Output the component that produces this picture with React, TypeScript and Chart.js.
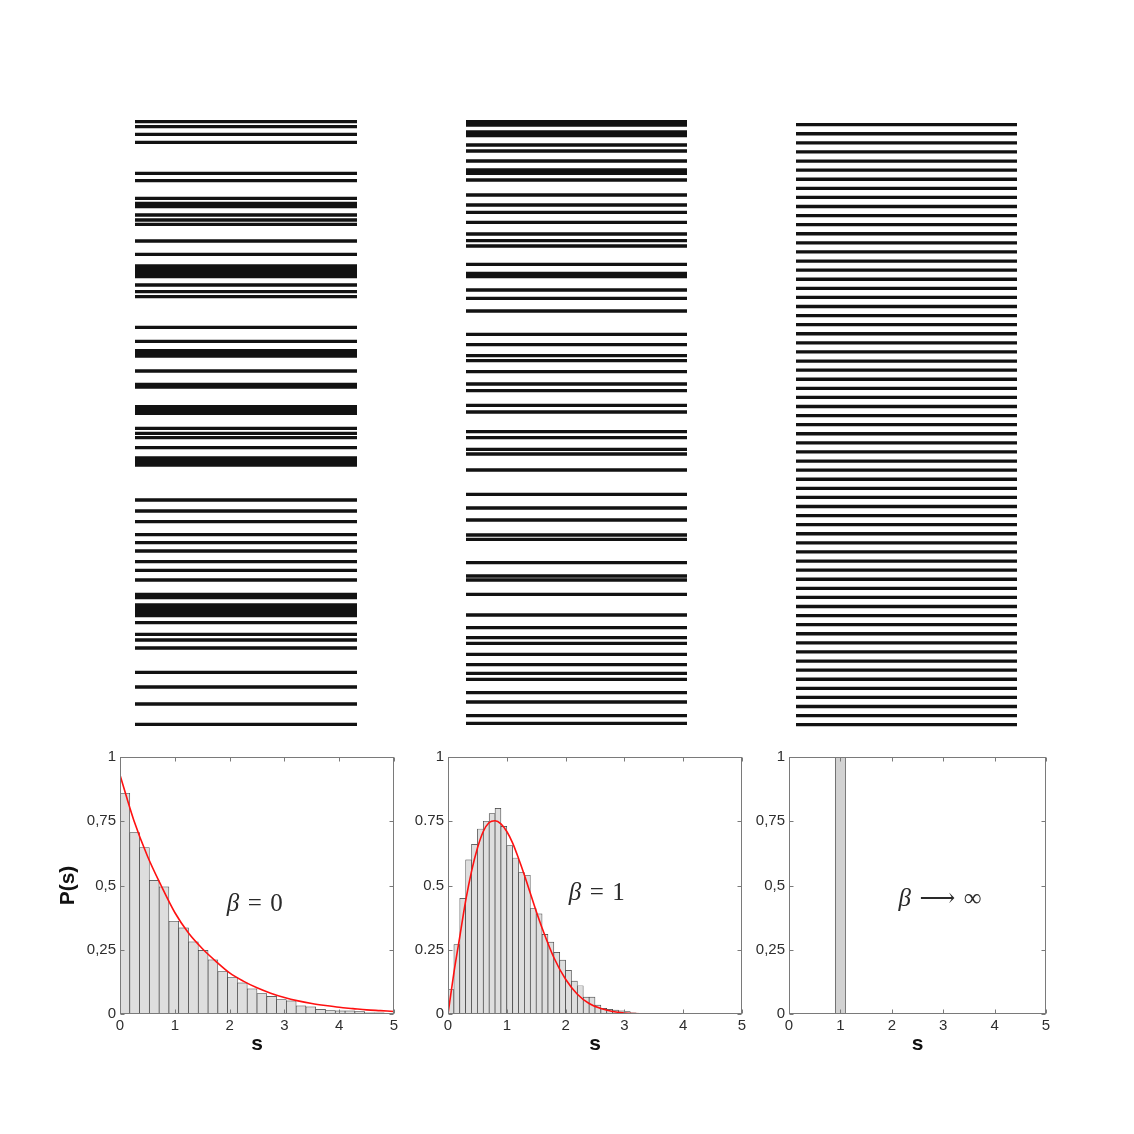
import React, { useEffect, useRef } from 'react';
import { Chart, registerables } from 'chart.js';

Chart.register(...registerables);
Chart.defaults.font.family = '"Liberation Sans", Arial, Helvetica, sans-serif';

// ---------- Energy levels (arbitrary units, 0..100) ----------
const LEVELS_BETA0 = [
  98.13, 97.33, 96.11, 94.83, 89.87, 88.69, 85.87, 85.04, 84.56, 83.2, 82.4, 81.71,
  79.04, 76.91, 75.04, 74.48, 73.92, 73.36, 72.0, 70.93, 70.13, 65.23, 62.99, 61.49,
  61.07, 60.64, 58.24, 56.08, 55.68, 52.53, 52.0, 51.47, 49.07, 48.27, 47.57, 45.97,
  44.32, 43.76, 43.2, 37.6, 35.84, 34.13, 32.05, 30.77, 29.44, 27.73, 26.35, 24.8,
  22.48, 22.0, 20.8, 20.24, 19.68, 19.12, 17.97, 16.11, 15.2, 13.92, 10.03, 7.68,
  4.96, 1.71,
];

const LEVELS_BETA1 = [
  98.13, 97.6, 96.48, 95.92, 94.4, 93.44, 91.84, 90.4, 89.87, 88.8, 86.4, 84.8,
  83.63, 82.03, 80.16, 79.09, 78.24, 75.31, 73.87, 73.33, 71.2, 69.87, 67.84, 64.11,
  62.45, 60.69, 59.89, 58.13, 56.16, 55.09, 52.75, 51.68, 48.53, 47.57, 45.71, 44.96,
  42.4, 38.51, 36.32, 34.4, 32.0, 31.31, 27.57, 25.44, 24.8, 22.51, 19.2, 17.17,
  15.57, 14.67, 12.91, 11.25, 9.87, 8.91, 6.77, 5.28, 3.09, 1.87,
];

const LEVELS_BETAINF = [
  1.65, 3.1, 4.56, 6.01, 7.47, 8.92, 10.38, 11.83, 13.29, 14.74, 16.2, 17.65,
  19.1, 20.56, 22.01, 23.47, 24.92, 26.38, 27.83, 29.29, 30.74, 32.2, 33.65, 35.1,
  36.56, 38.01, 39.47, 40.92, 42.38, 43.83, 45.29, 46.74, 48.2, 49.65, 51.1, 52.56,
  54.01, 55.47, 56.92, 58.38, 59.83, 61.29, 62.74, 64.2, 65.65, 67.1, 68.56, 70.01,
  71.47, 72.92, 74.38, 75.83, 77.29, 78.74, 80.2, 81.65, 83.1, 84.56, 86.01, 87.47,
  88.92, 90.38, 91.83, 93.29, 94.74, 96.2, 97.65,
];

// ---------- Histograms ----------
const BIN_W_BETA0 = 5 / 28;
const HIST_BETA0 = [
  0.859, 0.706, 0.648, 0.52, 0.495, 0.361, 0.335, 0.281, 0.248, 0.211, 0.165, 0.143,
  0.121, 0.098, 0.079, 0.069, 0.056, 0.051, 0.032, 0.028, 0.018, 0.013, 0.012, 0.012,
  0.009, 0.005, 0.005, 0.003,
];

const BIN_W_BETA1 = 0.1;
const HIST_BETA1 = [
  0.095, 0.27, 0.45, 0.6, 0.66, 0.72, 0.75, 0.78, 0.8, 0.73, 0.655, 0.607,
  0.55, 0.54, 0.41, 0.39, 0.31, 0.28, 0.24, 0.21, 0.17, 0.128, 0.11, 0.066,
  0.066, 0.035, 0.022, 0.018, 0.015, 0.012, 0.009, 0.005, 0.003,
];

const HIST_BETAINF_CENTERS = [0.8, 1.0, 1.2];
const HIST_BETAINF = [0, 1, 0];

// ---------- Theoretical curves ----------
const CURVE_BETA0_S = [0, 0.25, 0.5, 0.75, 1, 1.25, 1.5, 1.75, 2, 2.25, 2.5, 2.75, 3, 3.25, 3.5, 3.75, 4, 4.25, 4.5, 4.75, 5];
const CURVE_BETA0_P = [0.93, 0.755, 0.615, 0.5, 0.395, 0.315, 0.255, 0.205, 0.16, 0.128, 0.102, 0.081, 0.064, 0.051, 0.041, 0.033, 0.026, 0.021, 0.016, 0.013, 0.01];

const CURVE_BETA1_S = [0, 0.1, 0.2, 0.3, 0.4, 0.5, 0.6, 0.7, 0.8, 0.9, 1.0, 1.1, 1.2, 1.3, 1.4, 1.5, 1.6, 1.8, 2.0, 2.2, 2.4, 2.6, 2.8, 3.0, 3.3, 3.6, 4.0];
const CURVE_BETA1_P = [0, 0.16, 0.3, 0.44, 0.555, 0.645, 0.71, 0.745, 0.752, 0.74, 0.71, 0.665, 0.605, 0.54, 0.47, 0.4, 0.335, 0.22, 0.135, 0.077, 0.041, 0.021, 0.0095, 0.004, 0.001, 0.0002, 0];

// ---------- Tick labels / texts ----------
const X_TICKS = ['0', '1', '2', '3', '4', '5'];
const Y_TICKS_COMMA = ['0', '0,25', '0,5', '0,75', '1'];
const Y_TICKS_DOT = ['0', '0.25', '0.5', '0.75', '1'];
const LABEL_BETA0 = ['β', '=', '0'];
const LABEL_BETA1 = ['β', '=', '1'];
const LABEL_BETAINF = ['β', '⟶', '∞'];

function Barcode(props: { levels: number[]; left: number; top: number; width: number; height: number }) {
  const ref = useRef<HTMLCanvasElement>(null);
  useEffect(() => {
    const data: any[] = [];
    props.levels.forEach((e) => {
      data.push({ x: 0, y: e }, { x: 1, y: e }, { x: 0.5, y: null });
    });
    const chart = new Chart(ref.current as HTMLCanvasElement, {
      type: 'line',
      data: {
        datasets: [
          {
            data,
            borderColor: '#121212',
            borderWidth: 3.3,
            pointRadius: 0,
            spanGaps: false,
            borderCapStyle: 'butt',
          } as any,
        ],
      },
      options: {
        animation: false,
        responsive: false,
        events: [],
        layout: { padding: 0 },
        plugins: { legend: { display: false }, tooltip: { enabled: false } },
        scales: {
          x: { type: 'linear', min: 0, max: 1, display: false },
          y: { type: 'linear', min: 0, max: 100, display: false },
        },
      },
    });
    return () => chart.destroy();
  }, []);
  return (
    <canvas
      ref={ref}
      width={props.width}
      height={props.height}
      style={{ position: 'absolute', left: props.left, top: props.top, width: props.width, height: props.height }}
    />
  );
}

const panelDecor = {
  id: 'panelDecor',
  afterDraw(chart: any, _args: any, opts: any) {
    const { ctx, chartArea: ca } = chart;
    const xs = chart.scales.x;
    const ys = chart.scales.y;
    ctx.save();
    ctx.strokeStyle = '#7a7a7a';
    ctx.lineWidth = 1;
    const L = Math.round(ca.left) + 0.5;
    const R = Math.round(ca.right) - 0.5;
    const T = Math.round(ca.top) + 0.5;
    const B = Math.round(ca.bottom) - 0.5;
    ctx.strokeRect(L, T, R - L, B - T);
    ctx.beginPath();
    xs.ticks.forEach((t: any) => {
      const px = Math.round(xs.getPixelForValue(t.value)) + 0.5;
      ctx.moveTo(px, B);
      ctx.lineTo(px, B - 4);
      ctx.moveTo(px, T);
      ctx.lineTo(px, T + 4);
    });
    ys.ticks.forEach((t: any) => {
      const py = Math.round(ys.getPixelForValue(t.value)) + 0.5;
      ctx.moveTo(L, py);
      ctx.lineTo(L + 4, py);
      ctx.moveTo(R, py);
      ctx.lineTo(R - 4, py);
    });
    ctx.stroke();

    // math label
    const pieces: string[] = opts.label || [];
    if (pieces.length) {
      const size = opts.size || 23;
      const fam = '"Liberation Serif", "DejaVu Serif", serif';
      const fonts = pieces.map((_p, i) => (i === 0 ? 'italic ' : '') + size + 'px ' + fam);
      const widths = pieces.map((p, i) => {
        ctx.font = fonts[i];
        return ctx.measureText(p).width;
      });
      const gap = size * 0.34;
      const total = widths.reduce((a, b) => a + b, 0) + gap * (pieces.length - 1);
      const cx = xs.getPixelForValue(opts.at[0]);
      const cy = ys.getPixelForValue(opts.at[1]);
      let x = cx - total / 2;
      ctx.fillStyle = '#2a2a2a';
      ctx.textBaseline = 'middle';
      ctx.textAlign = 'left';
      pieces.forEach((p, i) => {
        ctx.font = fonts[i];
        ctx.fillText(p, x, cy);
        x += widths[i] + gap;
      });
    }
    ctx.restore();
  },
};

function Histogram(props: {
  left: number;
  top: number;
  width: number;
  height: number;
  yAxisWidth: number;
  padTop: number;
  padRight: number;
  xAxisHeight: number;
  centers: number[];
  values: number[];
  curveS?: number[];
  curveP?: number[];
  yTickLabels: string[];
  yTitle?: string;
  label: string[];
  labelAt: [number, number];
  barFill: string;
}) {
  const ref = useRef<HTMLCanvasElement>(null);
  useEffect(() => {
    const datasets: any[] = [];
    if (props.curveS && props.curveP) {
      datasets.push({
        type: 'line',
        order: 0,
        data: props.curveS.map((s, i) => ({ x: s, y: (props.curveP as number[])[i] })),
        borderColor: '#ff1010',
        borderWidth: 1.6,
        pointRadius: 0,
        cubicInterpolationMode: 'monotone',
      });
    }
    datasets.push({
      type: 'bar',
      order: 1,
      data: props.centers.map((c, i) => ({ x: c, y: props.values[i] })),
      backgroundColor: props.barFill,
      borderColor: '#3c3c3c',
      borderWidth: (ctx: any) => (ctx.raw && ctx.raw.y > 0 ? 0.7 : 0),
      barPercentage: 1,
      categoryPercentage: 1,
    });
    const chart = new Chart(ref.current as HTMLCanvasElement, {
      type: 'bar',
      data: { datasets },
      options: {
        animation: false,
        responsive: false,
        events: [],
        layout: { padding: { left: 0, top: props.padTop, right: props.padRight, bottom: 0 } },
        plugins: {
          legend: { display: false },
          tooltip: { enabled: false },
          panelDecor: { label: props.label, at: props.labelAt, size: 25 },
        } as any,
        scales: {
          x: {
            type: 'linear',
            min: 0,
            max: 5,
            offset: false,
            grid: { display: false, drawTicks: false },
            border: { display: false },
            ticks: {
              stepSize: 1,
              autoSkip: false,
              maxRotation: 0,
              padding: 3,
              color: '#2e2e2e',
              font: { size: 15 },
              callback: (_v: any, i: number) => X_TICKS[i],
            },
            title: {
              display: true,
              text: 's',
              color: '#111',
              font: { size: 21, weight: 'bold' },
              padding: { top: 0, bottom: 7 },
            },
            afterFit: (scale: any) => {
              scale.height = props.xAxisHeight;
            },
          },
          y: {
            type: 'linear',
            min: 0,
            max: 1,
            grid: { display: false, drawTicks: false },
            border: { display: false },
            ticks: {
              stepSize: 0.25,
              autoSkip: false,
              padding: 4,
              color: '#2e2e2e',
              font: { size: 15 },
              callback: (_v: any, i: number) => props.yTickLabels[i],
            },
            title: {
              display: !!props.yTitle,
              text: props.yTitle || '',
              color: '#111',
              font: { size: 21, weight: 'bold' },
              padding: { top: 6, bottom: 0 },
            },
            afterFit: (scale: any) => {
              scale.width = props.yAxisWidth;
            },
          },
        },
      } as any,
      plugins: [panelDecor as any],
    });
    return () => chart.destroy();
  }, []);
  return (
    <canvas
      ref={ref}
      width={props.width}
      height={props.height}
      style={{ position: 'absolute', left: props.left, top: props.top, width: props.width, height: props.height }}
    />
  );
}

export default function App() {
  const centers0 = HIST_BETA0.map((_v, i) => (i + 0.5) * BIN_W_BETA0);
  const centers1 = HIST_BETA1.map((_v, i) => (i + 0.5) * BIN_W_BETA1);
  return (
    <div
      style={{
        position: 'absolute',
        left: 0,
        top: 0,
        width: 1134,
        height: 1134,
        background: '#ffffff',
        overflow: 'hidden',
      }}
    >
      <Barcode levels={LEVELS_BETA0} left={135} top={110} width={222} height={625} />
      <Barcode levels={LEVELS_BETA1} left={466} top={110} width={221} height={625} />
      <Barcode levels={LEVELS_BETAINF} left={796} top={110} width={221} height={625} />

      <Histogram
        left={50}
        top={744}
        width={360}
        height={320}
        yAxisWidth={70}
        padTop={10}
        padRight={16}
        xAxisHeight={50}
        centers={centers0}
        values={HIST_BETA0}
        curveS={CURVE_BETA0_S}
        curveP={CURVE_BETA0_P}
        yTickLabels={Y_TICKS_COMMA}
        yTitle="P(s)"
        label={LABEL_BETA0}
        labelAt={[2.46, 0.427]}
        barFill="#dedede"
      />
      <Histogram
        left={400}
        top={744}
        width={360}
        height={320}
        yAxisWidth={48}
        padTop={10}
        padRight={18}
        xAxisHeight={50}
        centers={centers1}
        values={HIST_BETA1}
        curveS={CURVE_BETA1_S}
        curveP={CURVE_BETA1_P}
        yTickLabels={Y_TICKS_DOT}
        label={LABEL_BETA1}
        labelAt={[2.53, 0.469]}
        barFill="#dedede"
      />
      <Histogram
        left={741}
        top={744}
        width={329}
        height={320}
        yAxisWidth={48}
        padTop={10}
        padRight={24}
        xAxisHeight={50}
        centers={HIST_BETAINF_CENTERS}
        values={HIST_BETAINF}
        yTickLabels={Y_TICKS_COMMA}
        label={LABEL_BETAINF}
        labelAt={[2.94, 0.446]}
        barFill="#d2d2d2"
      />
    </div>
  );
}
